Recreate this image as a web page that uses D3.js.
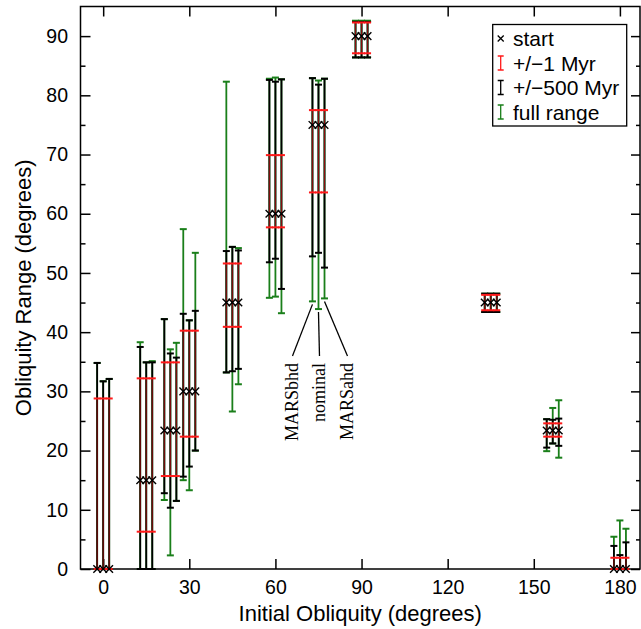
<!DOCTYPE html>
<html>
<head>
<meta charset="utf-8">
<script src="https://cdn.jsdelivr.net/npm/d3@7"></script>
<style>
  html, body { margin: 0; padding: 0; background: #fff; }
  svg { display: block; }
  text { font-family: "Liberation Sans", Arial, Helvetica, sans-serif; fill: #000; }
</style>
</head>
<body>
<svg id="chart" width="641" height="629"></svg>
<script>
// Initial obliquities (degrees) and the three model variants at each one
const initialObliquity = [0, 15, 23.4, 30, 45, 60, 75, 90, 135, 156.6, 180];
const models = ["MARSbhd", "nominal", "MARSahd"];

// Obliquity at the start of each run
const startValue = [0, 15, 23.4, 30, 45, 60, 75, 90, 45, 23.4, 0];

// +/-1 Myr range (same for every model at a given initial obliquity)
const myr1Low  = [0, 6.3, 15.7, 22.35, 40.9, 57.7, 63.6, 87.1, 43.7, 22.35, 0];
const myr1High = [28.8, 32.2, 34.9, 40.25, 51.6, 69.9, 77.5, 92.3, 46.3, 24.6, 1.9];

// +/-500 Myr range, one array per model
const myr500Low = {
  MARSbhd: [0, 0, 12.8, 15.6, 33.2, 51.8, 52.8, 86.4, 43.4, 20.5, 0],
  nominal: [0, 0, 10.35, 17.3, 33.4, 52.4, 53.4, 86.4, 43.4, 21.2, 0],
  MARSahd: [0, 0, 11.5, 20.0, 33.8, 47.3, 50.9, 86.4, 43.4, 20.8, 0]
};
const myr500High = {
  MARSbhd: [34.8, 37.5, 42.2, 43.1, 53.7, 82.6, 82.9, 92.4, 46.5, 25.3, 3.9],
  nominal: [31.7, 34.9, 36.4, 42.0, 54.4, 82.3, 81.8, 92.4, 46.5, 25.2, 2.35],
  MARSahd: [32.1, 34.9, 35.7, 43.6, 53.8, 82.7, 82.8, 92.4, 46.5, 25.4, 4.5]
};

// Full range over the whole run, one array per model
const fullLow = {
  MARSbhd: [0, 0, 11.65, 15.0, 33.2, 45.8, 45.2, 86.4, 43.4, 19.9, 0],
  nominal: [0, 0, 2.3, 13.3, 26.6, 46.0, 43.9, 86.4, 43.4, 21.2, 0],
  MARSahd: [0, 0, 11.5, 20.0, 31.2, 43.2, 45.7, 86.4, 43.4, 18.8, 0]
};
const fullHigh = {
  MARSbhd: [34.8, 38.3, 42.2, 57.4, 82.3, 82.8, 82.9, 92.6, 46.5, 25.3, 5.45],
  nominal: [31.7, 34.9, 37.1, 42.0, 54.4, 83.0, 82.5, 92.6, 46.5, 27.2, 8.2],
  MARSahd: [32.1, 35.1, 38.2, 53.4, 54.2, 82.7, 82.8, 92.6, 46.5, 28.5, 6.8]
};

// Axis ticks
const xTicks = [0, 30, 60, 90, 120, 150, 180];
const yTicks = [0, 10, 20, 30, 40, 50, 60, 70, 80, 90];
const yMinorTicks = [5, 15, 25, 35, 45, 55, 65, 75, 85];

const legendLabels = ["start", "+/\u22121 Myr", "+/\u2212500 Myr", "full range"];

// ---- layout ----
const W = 641, H = 629;
const plot = { left: 80.5, right: 640, top: 6.5, bottom: 569 };
const modelOffset = 2.1;           // horizontal spread of the model variants (deg)
const colors = { red: "#ff1a1a", black: "#000", green: "#1a7f1a" };

const svg = d3.select("#chart");

const x = d3.scaleLinear().domain([-7.9, 187]).range([plot.left, plot.right]);
const y = d3.scaleLinear().domain([0, 95]).range([plot.bottom, plot.top]);

// ---- axes (ticks point inward on all four sides) ----
const axisFont = "19.5px";

const gBottom = svg.append("g").attr("transform", `translate(0,${plot.bottom})`)
  .call(d3.axisBottom(x).tickValues(xTicks).tickSizeInner(-10).tickSizeOuter(0).tickPadding(11));
const gTop = svg.append("g").attr("transform", `translate(0,${plot.top})`)
  .call(d3.axisTop(x).tickValues(xTicks).tickSizeInner(-10).tickSizeOuter(0).tickFormat(""));
const gLeft = svg.append("g").attr("transform", `translate(${plot.left},0)`)
  .call(d3.axisLeft(y).tickValues(yTicks).tickSizeInner(-10).tickSizeOuter(0).tickPadding(12.5));
const gLeftMinor = svg.append("g").attr("transform", `translate(${plot.left},0)`)
  .call(d3.axisLeft(y).tickValues(yMinorTicks).tickSizeInner(-5).tickSizeOuter(0).tickFormat(""));
const gRight = svg.append("g").attr("transform", `translate(${plot.right},0)`)
  .call(d3.axisRight(y).tickValues(yTicks).tickSizeInner(-9).tickSizeOuter(0).tickFormat(""));
const gRightMinor = svg.append("g").attr("transform", `translate(${plot.right},0)`)
  .call(d3.axisRight(y).tickValues(yMinorTicks).tickSizeInner(-4).tickSizeOuter(0).tickFormat(""));

[gBottom, gTop, gLeft, gLeftMinor, gRight, gRightMinor].forEach(g => {
  g.select(".domain").remove();
  g.selectAll(".tick line").attr("stroke", "#000").attr("stroke-width", 1.5);
  g.selectAll(".tick text").style("font-size", axisFont)
    .style("font-family", '"Liberation Sans", Arial, sans-serif').attr("fill", "#000");
});

// frame
svg.append("rect")
  .attr("x", plot.left).attr("y", plot.top)
  .attr("width", plot.right - plot.left).attr("height", plot.bottom - plot.top)
  .attr("fill", "none").attr("stroke", "#000").attr("stroke-width", 1.5);

// axis titles
svg.append("text")
  .attr("x", (plot.left + plot.right) / 2).attr("y", 621)
  .attr("text-anchor", "middle").style("font-size", "22px")
  .text("Initial Obliquity (degrees)");
svg.append("text")
  .attr("transform", `translate(31,${(plot.top + plot.bottom) / 2}) rotate(-90)`)
  .attr("text-anchor", "middle").style("font-size", "22px")
  .text("Obliquity Range (degrees)");

// ---- error bars ----
const bars = [];
initialObliquity.forEach((io, i) => {
  models.forEach((m, j) => {
    bars.push({
      xv: io + (j - 1) * modelOffset,
      start: startValue[i],
      green: [fullLow[m][i], fullHigh[m][i]],
      black: [myr500Low[m][i], myr500High[m][i]],
      red: [myr1Low[i], myr1High[i]]
    });
  });
});

function drawRange(g, key, color, width, capHalf, capWidth, opacity) {
  const sel = g.selectAll(`g.${key}`).data(bars).join("g").attr("class", key)
    .attr("stroke", color).attr("stroke-opacity", opacity);
  sel.append("line")
    .attr("x1", d => x(d.xv)).attr("x2", d => x(d.xv))
    .attr("y1", d => y(d[key][0])).attr("y2", d => y(d[key][1]))
    .attr("stroke-width", width);
  [0, 1].forEach(k => {
    sel.append("line")
      .attr("x1", d => x(d.xv) - capHalf).attr("x2", d => x(d.xv) + capHalf)
      .attr("y1", d => y(d[key][k])).attr("y2", d => y(d[key][k]))
      .attr("stroke-width", capWidth).attr("stroke-opacity", 1);
  });
}

const gBars = svg.append("g");
drawRange(gBars, "green", colors.green, 1.8, 3.5, 2, 1);
drawRange(gBars, "black", colors.black, 1.8, 3.5, 2, 1);
drawRange(gBars, "red", colors.red, 1, 3.5, 2, 0.55);

// start markers
const xr = 3.8;
gBars.selectAll("path.start").data(bars).join("path").attr("class", "start")
  .attr("d", d => {
    const cx = x(d.xv), cy = y(d.start);
    return `M${cx - xr},${cy - xr}L${cx + xr},${cy + xr}M${cx - xr},${cy + xr}L${cx + xr},${cy - xr}`;
  })
  .attr("stroke", "#000").attr("stroke-width", 1.4).attr("fill", "none");

// ---- model labels at 75 degrees ----
const labelIdx = initialObliquity.indexOf(75);
const labelDx = { MARSbhd: -26, nominal: 1, MARSahd: 29 };
const labelTop = 363;
models.forEach((m, j) => {
  const bx = x(initialObliquity[labelIdx] + (j - 1) * modelOffset);
  const by = y(fullLow[m][labelIdx]) + 3;
  const tx = x(initialObliquity[labelIdx]) + labelDx[m];
  svg.append("line")
    .attr("x1", bx).attr("y1", by).attr("x2", tx).attr("y2", labelTop - 7)
    .attr("stroke", "#000").attr("stroke-width", 1.3);
  svg.append("text")
    .attr("transform", `translate(${tx},${labelTop}) rotate(-90)`)
    .attr("text-anchor", "end").attr("dominant-baseline", "central")
    .style("font-family", '"Liberation Serif", "Times New Roman", serif')
    .style("font-size", "18px")
    .text(m);
});

// ---- legend ----
const lg = svg.append("g");
lg.append("rect").attr("x", 492.7).attr("y", 24.5).attr("width", 134).attr("height", 101.5)
  .attr("fill", "#fff").attr("stroke", "#000").attr("stroke-width", 1.3);
const rowY = [38.5, 63, 87.5, 112];
const symX = 500.7, txtX = 513;
// start symbol
lg.append("path")
  .attr("d", `M${symX - 3},${rowY[0] - 3}L${symX + 3},${rowY[0] + 3}M${symX - 3},${rowY[0] + 3}L${symX + 3},${rowY[0] - 3}`)
  .attr("stroke", "#000").attr("stroke-width", 1.3);
[colors.red, colors.black, colors.green].forEach((c, k) => {
  const cy = rowY[k + 1];
  lg.append("path")
    .attr("d", `M${symX},${cy - 7}L${symX},${cy + 7}M${symX - 3},${cy - 7}L${symX + 3},${cy - 7}M${symX - 3},${cy + 7}L${symX + 3},${cy + 7}`)
    .attr("stroke", c).attr("stroke-width", 1.3).attr("fill", "none");
});
legendLabels.forEach((t, k) => {
  lg.append("text").attr("x", txtX).attr("y", rowY[k])
    .attr("dominant-baseline", "central").style("font-size", "21px").text(t);
});
</script>
</body>
</html>
